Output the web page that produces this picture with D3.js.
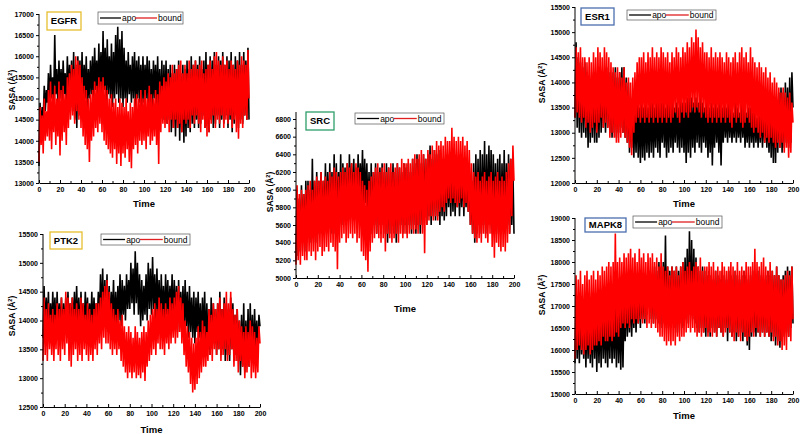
<!DOCTYPE html>
<html><head><meta charset="utf-8">
<script src="https://cdn.jsdelivr.net/npm/d3@7"></script>
<style>body{margin:0;background:#fff}svg{display:block}text{font-family:"Liberation Sans",Arial,sans-serif}</style>
</head><body>
<svg id="c" width="800" height="434"></svg>
<script>
// ---- data (SASA, Å², sampled every 1 ns from 0 to 200) ----
const time = d3.range(0, 201, 1);
const xTickLabels = [0,20,40,60,80,100,120,140,160,180,200];
const seriesNames = ["apo","bound"];

const egfrApo = [13400,14900,14200,14800,14500,15300,14700,15200,14900,15600,
14800,15800,15000,15500,14900,16500,15100,15700,14800,15900,
15000,15700,14900,15900,15100,15600,14800,16000,15000,15800,
14800,15900,14700,16100,14500,15800,14300,16000,14600,15900,
14700,16100,14900,15800,15000,16000,14800,15700,15000,15900,
15100,16000,14900,16200,15200,15900,15000,16300,15100,16100,
15000,16600,15200,16200,14900,16400,15100,16000,15000,16300,
14800,16100,15000,16500,15100,16700,14900,16400,15000,16600,
14800,16200,15000,15900,14900,16100,15100,15800,14900,16000,
15000,16100,14800,15900,15000,16000,14900,15800,14800,16000,
14900,15800,15000,16000,14700,15900,14900,15700,14800,15900,
15000,15800,14700,16000,14800,15700,14600,15900,14500,15800,
14700,15900,14400,15700,14500,15800,14200,15600,14300,15800,
14100,15700,14300,15900,14000,15600,14200,15800,13950,15700,
14100,15900,14300,15700,14200,16000,14400,15800,14300,15900,
14500,15800,14300,16000,14400,15700,14600,15900,14300,16100,
14400,15800,14200,16000,14500,15900,14300,16100,14400,15800,
14600,16000,14300,15900,14500,16100,14400,15800,14600,16000,
14300,15900,14500,16100,14200,15800,14400,16000,14600,15900,
14300,16100,14500,15800,14400,16100,14600,15900,14500,16200,
14500];
const egfrBound = [13500,14800,13900,14600,13700,15000,14000,14700,14100,15200,
14000,15400,13800,15100,14200,15300,13900,15000,14100,15400,
13650,15200,14000,15300,14200,15100,13900,15500,14300,15600,
14500,15800,14600,15700,14400,16000,14700,15900,14500,15800,
14300,15500,14100,15300,13900,15200,13800,15000,13500,15100,
14000,15200,14100,15400,14300,15300,14200,15500,14400,15400,
14200,15500,14000,15300,13900,15200,13800,15000,13700,15100,
13600,14900,13800,15000,13450,14800,13700,15000,13400,14900,
13700,14800,13600,15000,13800,14700,13500,14900,13350,14800,
13800,15000,13900,15100,13700,15000,14000,15200,13900,15000,
14000,15200,13800,15000,14100,15300,13900,15100,14000,15000,
14100,15200,13900,15100,13450,15400,14200,15300,14400,15500,
14300,15400,14400,15600,14200,15500,14500,15800,14300,15600,
14500,15700,14300,15800,14400,15900,14200,15600,14500,15800,
14400,15600,14500,15900,14300,15700,14600,15800,14400,15900,
14600,15700,14400,15800,14200,15900,14500,15600,14300,15700,
14100,15800,14200,15900,14400,15700,14600,16000,14300,16100,
14500,15900,14400,15800,14600,16000,14300,15800,14500,15900,
14400,15700,14600,15900,14300,15800,14500,15700,14200,15900,
14050,15800,14400,16000,14300,15900,14600,15800,14500,16150,
15000];

const ptk2Apo = [13700,14600,13800,14400,13900,14500,13700,14300,13800,14500,
13900,14400,13700,14500,13800,14300,13900,14400,13700,14300,
13800,14400,13700,14500,13900,14300,13800,14400,13900,14500,
13800,14600,13900,14400,13700,14500,13800,14300,13900,14500,
13900,14400,13800,14300,13900,14500,13800,14400,13900,14300,
14000,14500,13900,14800,14000,14900,13900,14700,14000,14800,
13800,14600,13900,14500,14000,14700,13800,14500,13900,14600,
14000,14800,13900,14700,14100,14600,14000,14800,14200,14700,
14200,15000,14300,14900,14100,15200,14300,15000,14100,14800,
13900,14700,14000,14600,14100,14800,14000,15000,14200,14900,
14100,15100,14200,14800,14000,14900,14100,14700,13900,14800,
14000,14600,13900,14800,14100,14700,14000,14600,14100,14800,
13900,14700,14000,14600,13800,14700,14000,14500,13900,14600,
13800,14700,13900,14500,13700,14600,13800,14400,13700,14500,
13600,14400,13800,14500,13700,14300,13600,14400,13700,14500,
13500,14300,13600,14200,13400,14400,13500,14300,13600,14200,
13400,14300,13500,14500,13400,14200,13500,14400,13300,14300,
13400,14200,13300,14400,13500,14300,13300,14100,13400,14200,
13300,14000,13050,14100,13200,14300,13100,14000,13300,14200,
13200,14300,13400,14100,13300,14200,13500,14000,13400,14100,
13900];
const ptk2Bound = [13300,14400,13400,14200,13300,14300,13500,14100,13400,14200,
13300,14100,13500,14300,13400,14200,13300,14400,13500,14200,
13400,14500,13600,14400,13300,14300,13200,14400,13400,14200,
13500,14300,13300,14200,13400,14400,13300,14300,13500,14100,
13400,14300,13300,14200,13400,14100,13300,14200,13500,14300,
13400,14300,13600,14400,13500,14500,13700,14600,13600,14700,
13600,14500,13500,14300,13400,14200,13500,14100,13400,14200,
13500,14000,13300,14100,13200,13900,13100,13800,13000,13900,
13100,13800,13000,13700,13100,13900,13000,13800,13050,13700,
13000,13800,13100,13900,12950,13800,13200,14000,13300,14100,
13400,14200,13500,14300,13400,14200,13600,14400,13500,14300,
13500,14200,13400,14300,13600,14200,13500,14400,13600,14300,
13700,14400,13600,14500,13700,14600,13800,14400,13600,14300,
13400,14000,13200,13900,13100,13800,12900,13700,12750,13600,
12800,13700,12900,13900,13000,13800,13100,14000,13200,13900,
13200,13800,13300,14200,13400,14100,13300,14300,13500,14200,
13400,14300,13500,14400,13300,14200,13400,14300,13500,14500,
13300,14300,13400,14500,13500,14200,13200,14100,13300,14200,
13100,14000,13300,13900,13200,13800,13000,13900,13100,13800,
13200,14000,13000,13900,13100,13800,13000,13700,13100,13900,
13600];

const srcApo = [5200,6000,5250,5900,5300,6050,5400,5950,5300,6100,
5400,6100,5500,6000,5400,6350,5500,6100,5400,6200,
5500,6100,5600,6200,5500,6100,5600,6300,5500,6200,
5600,6300,5500,6200,5600,6400,5500,6300,5600,6200,
5700,6400,5600,6300,5700,6250,5600,6300,5700,6400,
5800,6300,5700,6350,5800,6250,5800,6400,5900,6300,
5900,6450,5800,6350,5850,6300,5700,6200,5600,6300,
5500,6200,5600,6300,5500,6200,5600,6250,5500,6300,
5600,6200,5500,6300,5400,6250,5500,6200,5600,6300,
5500,6200,5400,6300,5500,6250,5600,6200,5500,6300,
5600,6250,5500,6300,5600,6200,5500,6350,5600,6300,
5500,6400,5600,6350,5500,6300,5600,6400,5700,6350,
5600,6400,5700,6500,5600,6350,5700,6450,5650,6400,
5700,6450,5600,6400,5700,6350,5650,6300,5700,6400,
5800,6300,5700,6350,5750,6300,5700,6250,5800,6300,
5700,6200,5800,6300,5700,6250,5800,6200,5750,6300,
5600,6100,5500,6300,5400,6400,5500,6350,5600,6450,
5500,6400,5600,6550,5500,6400,5600,6500,5700,6450,
5500,6400,5600,6300,5500,6350,5600,6400,5500,6300,
5600,6450,5500,6300,5600,6400,5500,6350,5600,6250,
5500];
const srcBound = [5150,6050,5200,5950,5150,6000,5250,5950,5200,6000,
5200,6050,5300,6100,5250,6000,5300,6100,5200,6150,
5300,6100,5350,6200,5250,6100,5300,6150,5350,6100,
5300,6200,5400,6150,5350,6250,5300,6200,5100,6150,
5400,6200,5450,6250,5500,6200,5400,6300,5450,6250,
5500,6300,5450,6200,5500,6300,5400,6250,5450,6200,
5300,6100,5250,6050,5200,6000,5070,6100,5300,6150,
5400,6200,5450,6250,5500,6300,5450,6200,5400,6250,
5450,6300,5300,6200,5500,6250,5450,6300,5400,6200,
5450,6250,5500,6300,5400,6250,5500,6350,5450,6300,
5500,6300,5450,6350,5500,6300,5550,6350,5500,6400,
5550,6350,5500,6400,5600,6450,5500,6400,5280,6350,
5600,6450,5650,6400,5700,6500,5650,6450,5700,6550,
5650,6500,5750,6550,5800,6500,5750,6600,5850,6550,
5900,6550,5850,6700,5900,6600,5850,6550,5800,6600,
5850,6550,5900,6600,5800,6500,5850,6550,5750,6450,
5600,6300,5500,6200,5450,6150,5400,6200,5450,6100,
5400,6150,5500,6200,5450,6100,5400,6150,5500,6200,
5350,6100,5230,6150,5400,6200,5350,6100,5300,6150,
5350,6100,5300,6200,5400,6300,5500,6350,5700,6500,
6100];

const esr1Apo = [13300,14800,13100,14500,13000,14400,12900,14300,13000,14400,
12900,14200,12700,14100,12800,14000,12900,14200,12800,14100,
12800,14200,12900,14300,13000,14200,13100,14100,13000,14300,
13100,14200,13000,14100,12900,14200,13000,14300,12900,14100,
13000,14200,13100,14300,13000,14300,12900,14100,12800,14000,
12600,13700,12700,13600,12500,13500,12600,13600,12500,13500,
12400,13600,12500,13500,12450,13600,12600,13500,12500,13700,
12600,13600,12500,13500,12700,13600,12600,13700,12500,13600,
12800,13600,12700,13500,12500,13600,12600,13700,12700,13600,
12600,13500,12800,13600,12700,13500,12600,13700,12700,13600,
12600,13600,12400,13700,12600,13800,12500,13700,12700,13600,
12600,13700,12800,13600,12700,13700,12600,13600,12800,13500,
12700,13600,12500,13500,12600,13600,12350,13500,12700,13600,
12800,13500,12600,13600,12350,13500,12800,13600,12900,13500,
12800,13600,12900,13500,12800,13400,12900,13600,12800,13500,
12900,13400,12800,13600,12900,13500,12700,13400,12800,13500,
12700,13500,12800,13400,12700,13500,12800,13300,12700,13400,
12800,13500,12700,13400,12800,13500,12700,13400,12600,13500,
12500,13600,12400,13700,12400,13600,12600,13800,12700,13900,
12600,13800,12700,14000,12800,13900,12700,14100,12800,14200,
13500];
const esr1Bound = [13300,14700,13400,14600,13300,14700,13200,14500,13300,14500,
13100,14400,13200,14500,13000,14400,13100,14600,13200,14500,
13000,14700,13200,14600,13300,14500,13100,14700,13200,14600,
13100,14500,12900,14400,13000,14300,12900,14200,12800,14300,
12800,14200,12900,14100,13000,14300,12900,14000,12800,14100,
12700,14000,12550,14100,13000,14200,13200,14400,13300,14500,
13200,14500,13300,14600,13200,14400,13300,14600,13200,14500,
13300,14700,13200,14500,13300,14600,13200,14500,13300,14700,
13200,14600,13300,14500,13200,14600,13300,14400,13200,14600,
13300,14500,13400,14700,13300,14600,13200,14500,13400,14700,
13300,14600,13400,14800,13300,14700,13400,14900,13500,14800,
13400,15050,13500,14900,13400,14700,13300,14800,13400,14600,
13300,14600,13200,14500,13300,14700,13200,14500,13300,14600,
13200,14500,13300,14600,13200,14500,13300,14400,13200,14600,
13300,14500,13200,14400,13100,14500,13300,14600,13200,14400,
13300,14600,13200,14700,13100,14500,13200,14600,13300,14400,
13200,14700,13100,14500,13000,14400,13100,14300,13000,14400,
12900,14300,13000,14200,12800,14300,12900,14100,12800,14200,
12900,14000,12800,14100,12700,14000,12800,13900,12700,13800,
12800,13900,12600,13800,12700,13700,12500,13800,12600,13600,
13200];

const mapk8Apo = [15700,17000,15800,16900,15700,17100,15900,16800,15800,17000,
15600,16900,15800,17000,15700,16800,15600,17100,15800,16900,
15500,17000,15700,16900,15600,17100,15800,16800,15700,17000,
15600,16900,15800,17100,15700,16900,15800,17000,15600,17100,
15700,16900,15550,17200,15600,17100,16200,17300,16300,17200,
16400,17400,16300,17300,16500,17500,16400,17400,16600,17500,
16500,17600,16700,17500,16600,17700,16800,17600,17100,17800,
16700,17700,16600,17900,16700,17800,16600,18000,16700,17900,
16500,18000,16600,18600,16500,17900,16600,17800,16500,17900,
16600,17800,16500,17900,16400,17800,16600,17900,16500,18000,
16600,18100,16700,18300,16600,18700,16800,18500,16700,18300,
16600,18100,16500,17900,16400,17800,16500,17900,16400,17800,
16300,17700,16400,17800,16300,17700,16500,17600,16400,17800,
16300,17700,16500,17600,16400,17800,16300,17700,16500,17600,
16200,17800,16400,17700,16300,17600,16400,17800,16200,17700,
16300,17600,16400,17700,16200,17800,16300,17700,16100,17600,
16000,17700,16300,17800,16400,17700,16300,17600,16400,17800,
16300,17700,16400,17600,16300,17700,16400,17800,16300,17700,
16200,17800,16300,17700,16100,17900,16200,17700,16050,17600,
16200,17700,16300,17800,16400,17900,16300,17800,16500,17900,
16600];
const mapk8Bound = [15800,17700,16000,17600,16100,17800,16000,17500,15900,17700,
16000,17800,16100,17600,15900,17700,16000,17800,16100,17600,
16100,17800,16200,17700,16100,17900,16300,17800,16200,17900,
16200,18000,16300,17900,16200,18000,16300,18650,16400,18000,
16300,18100,16500,18000,16600,18200,16500,18100,16600,18200,
16500,18300,16700,18100,16600,18200,16700,18000,16600,18300,
16700,18100,16600,18200,16700,18000,16500,18200,16600,18100,
16500,18200,16600,18000,16500,18100,16400,17900,16300,18200,
16300,17900,16200,17800,16100,17900,16200,17700,16100,17900,
16200,17800,16100,17900,16300,17700,16200,17900,16300,18000,
16300,17800,16400,17900,16500,18000,16400,17800,16500,17900,
16400,18000,16300,17900,16400,18100,16300,17800,16400,17900,
16500,17900,16300,18000,16400,17900,16300,18000,16400,17800,
16300,17900,16500,17800,16400,18000,16300,17900,16400,17800,
16500,17900,16400,18000,16300,17900,16200,17800,16400,18000,
16300,17800,16200,17900,16400,17800,16300,18000,16200,17900,
16300,17900,16400,18000,16300,18300,16500,18000,16400,17900,
16300,18000,16400,18100,16300,17900,16400,17800,16300,18000,
16400,17800,16200,17700,16300,17900,16100,17700,16200,17600,
16000,17600,16100,17700,16000,17800,16300,17700,16200,17900,
16700];

const egfrTicks = [13000,13500,14000,14500,15000,15500,16000,16500,17000];
const ptk2Ticks = [12500,13000,13500,14000,14500,15000,15500];
const srcTicks = [5000,5200,5400,5600,5800,6000,6200,6400,6600,6800];
const esr1Ticks = [12000,12500,13000,13500,14000,14500,15000,15500];
const mapk8Ticks = [15000,15500,16000,16500,17000,17500,18000,18500,19000];

// ---- layout / style ----
const panels = [
  {name:"EGFR", apo:egfrApo, bound:egfrBound, ticks:egfrTicks, x0:39, x1:249, yb:183, yt:14, extTop:0,
   box:[47,12,34,18], boxColor:"#e6bf2e", leg:[98,12,85,12], timeY:207, ylab:[15,90]},
  {name:"PTK2", apo:ptk2Apo, bound:ptk2Bound, ticks:ptk2Ticks, x0:43, x1:260, yb:407, yt:234, extTop:0,
   box:[50,232,32,17], boxColor:"#e6bf2e", leg:[101,234,89,11], timeY:433, ylab:[15,316]},
  {name:"SRC", apo:srcApo, bound:srcBound, ticks:srcTicks, x0:296, x1:514, yb:278, yt:119, extTop:7,
   box:[306,112,28,18], boxColor:"#2f9e6a", leg:[355,113,89,11], timeY:312, ylab:[273,192]},
  {name:"ESR1", apo:esr1Apo, bound:esr1Bound, ticks:esr1Ticks, x0:575, x1:793, yb:183, yt:7, extTop:0,
   box:[581,8,33,17], boxColor:"#4a6fae", leg:[627,10,89,10], timeY:207, ylab:[545,83]},
  {name:"MAPK8", apo:mapk8Apo, bound:mapk8Bound, ticks:mapk8Ticks, x0:575, x1:793, yb:394, yt:218, extTop:0,
   box:[585,218,41,14], boxColor:"#4a6fae", leg:[633,216,89,12], timeY:419, ylab:[545,295]}
];

const svg = d3.select("#c");
const fmt = d3.format("d");

panels.forEach(p => {
  const g = svg.append("g");
  const x = d3.scaleLinear().domain([0,200]).range([p.x0,p.x1]);
  const y = d3.scaleLinear().domain([p.ticks[0], p.ticks[p.ticks.length-1]]).range([p.yb,p.yt]);
  const line = d3.line().x((d,i)=>x(time[i])).y(d=>y(d));

  g.append("path").datum(p.apo).attr("d",line).attr("fill","none").attr("stroke","#000")
    .attr("stroke-width",1.6).attr("stroke-linejoin","bevel");
  g.append("path").datum(p.bound).attr("d",line).attr("fill","none").attr("stroke","#ff0000")
    .attr("stroke-width",1.6).attr("stroke-linejoin","bevel");

  // y axis
  const ya = g.append("g").attr("transform",`translate(${p.x0},0)`)
    .call(d3.axisLeft(y).tickValues(p.ticks).tickSizeInner(3).tickSizeOuter(0).tickPadding(2).tickFormat(fmt));
  const minorY = p.ticks.slice(1).map((v,i)=>(v+p.ticks[i])/2);
  g.append("g").attr("transform",`translate(${p.x0},0)`)
    .call(d3.axisLeft(y).tickValues(minorY).tickSize(2).tickFormat(""))
    .call(s=>s.select(".domain").remove());
  ya.select(".domain").attr("d",`M0,${p.yb}V${p.yt - p.extTop}`);
  ya.selectAll("text").attr("font-size",7).attr("font-weight","bold").attr("font-family",'"Liberation Sans",Arial,sans-serif');

  // x axis
  const xa = g.append("g").attr("transform",`translate(0,${p.yb})`)
    .call(d3.axisBottom(x).tickValues(xTickLabels).tickSizeInner(-3).tickSizeOuter(0).tickPadding(4).tickFormat(fmt));
  g.append("g").attr("transform",`translate(0,${p.yb})`)
    .call(d3.axisBottom(x).tickValues(xTickLabels.slice(1).map((v,i)=>(v+xTickLabels[i])/2)).tickSize(-2).tickFormat(""))
    .call(s=>s.select(".domain").remove());
  xa.selectAll("text").attr("font-size",7).attr("font-weight","bold").attr("font-family",'"Liberation Sans",Arial,sans-serif');
  g.selectAll(".tick line").attr("stroke","#000");

  // axis titles
  g.append("text").attr("x",(p.x0+p.x1)/2).attr("y",p.timeY).attr("text-anchor","middle")
    .attr("font-size",9.5).attr("font-weight","bold").text("Time");
  const yl = g.append("text").attr("transform",`translate(${p.ylab[0]},${p.ylab[1]}) rotate(-90)`)
    .attr("text-anchor","middle").attr("font-size",8.5).attr("font-weight","bold");
  yl.append("tspan").text("SASA (Å");
  yl.append("tspan").attr("font-size",5.5).attr("dy",-3).text("2");
  yl.append("tspan").attr("dy",3).text(")");

  // name box
  const [bx,by,bw,bh] = p.box;
  g.append("rect").attr("x",bx).attr("y",by).attr("width",bw).attr("height",bh)
    .attr("fill","#fff").attr("stroke",p.boxColor).attr("stroke-width",1.3);
  g.append("text").attr("x",bx+bw/2).attr("y",by+bh/2+3.3).attr("text-anchor","middle")
    .attr("font-size",9.5).attr("font-weight","bold").text(p.name);

  // legend
  const [lx,ly,lw,lh] = p.leg;
  g.append("rect").attr("x",lx).attr("y",ly).attr("width",lw).attr("height",lh)
    .attr("fill","#fff").attr("stroke","#555").attr("stroke-width",0.7);
  const cy = ly+lh/2;
  const k = lw/85;
  g.append("line").attr("x1",lx+2*k).attr("x2",lx+23*k).attr("y1",cy).attr("y2",cy).attr("stroke","#000").attr("stroke-width",1.3);
  g.append("text").attr("x",lx+24*k).attr("y",cy+3).attr("font-size",8.5).text(seriesNames[0]);
  g.append("line").attr("x1",lx+37*k).attr("x2",lx+59*k).attr("y1",cy).attr("y2",cy).attr("stroke","#e02020").attr("stroke-width",1.3);
  g.append("text").attr("x",lx+60*k).attr("y",cy+3).attr("font-size",8.5).text(seriesNames[1]);
});
</script>
</body></html>
